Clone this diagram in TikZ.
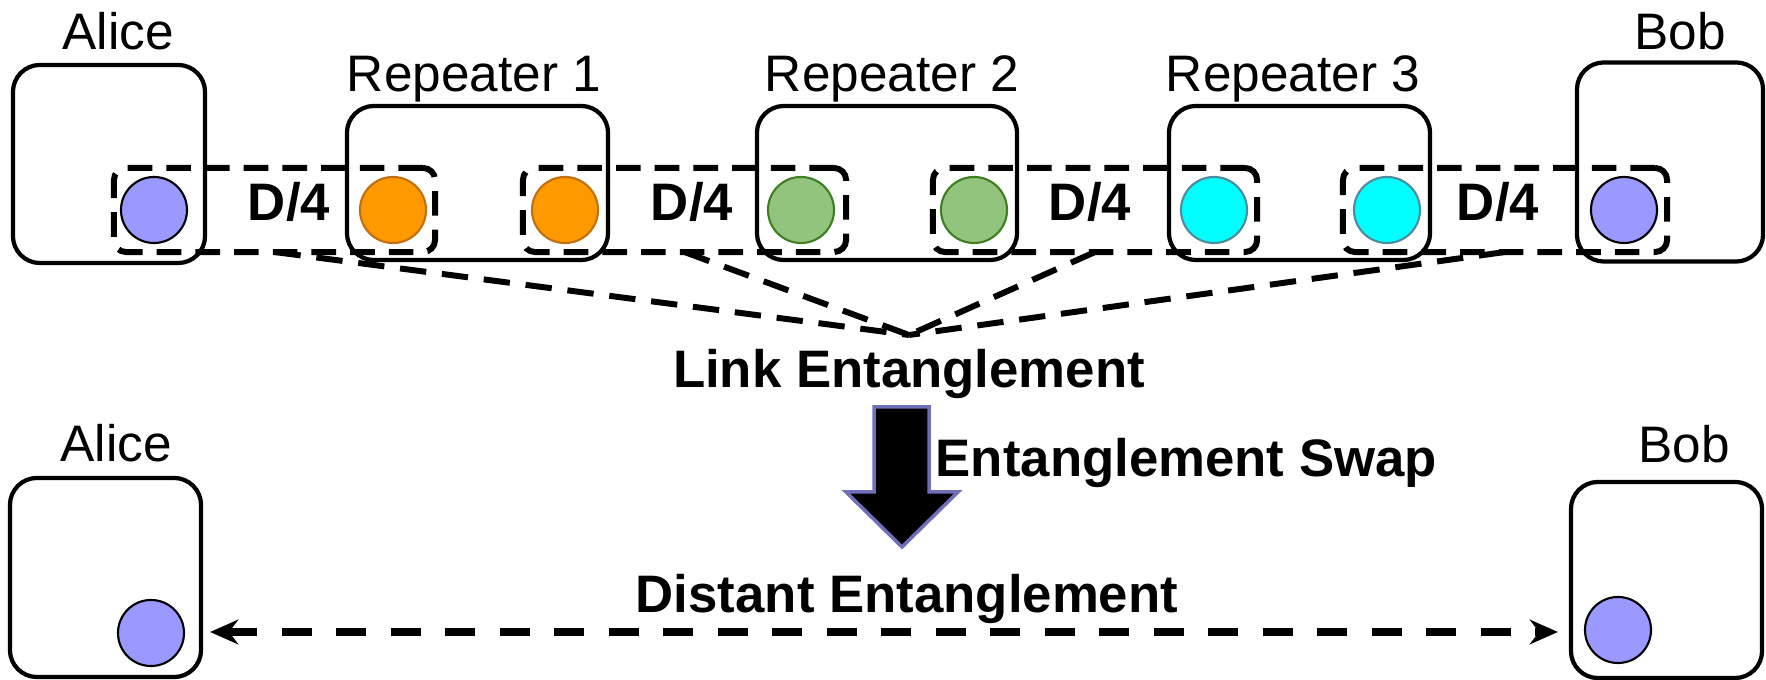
\documentclass[tikz,border=0pt]{standalone}
\usepackage{fontspec}
\setmainfont{Liberation Sans}
\usetikzlibrary{arrows.meta,calc}

\definecolor{qlav}{HTML}{9999FF}
\definecolor{qorange}{HTML}{FF9900}
\definecolor{qorangeedge}{HTML}{C07010}
\definecolor{qgreen}{HTML}{93C47D}
\definecolor{qgreenedge}{HTML}{3F7F24}
\definecolor{qcyan}{HTML}{00FFFF}
\definecolor{qcyanedge}{HTML}{4C8C9C}
\definecolor{swapedge}{HTML}{7070B8}

\tikzset{
  host/.style={draw, line width=1.2pt, rounded corners=0.27cm, inner sep=0pt, outer sep=0pt},
  qubit/.style={circle, minimum size=0.66cm, inner sep=0pt, line width=0.6pt},
  lav/.style={qubit, fill=qlav, draw=black},
  org/.style={qubit, fill=qorange, draw=qorangeedge},
  grn/.style={qubit, fill=qgreen, draw=qgreenedge},
  cyn/.style={qubit, fill=qcyan, draw=qcyanedge},
  linkbox/.style={draw, line width=1.7pt, dash pattern=on 7pt off 4pt,
    rounded corners=0.12cm, minimum height=0.84cm, inner sep=0pt, outer sep=0pt},
  linkline/.style={line width=1.7pt, dash pattern=on 7.5pt off 4.5pt},
  lab/.style={font=\fontsize{14.6}{17}\selectfont, anchor=base, inner sep=0pt},
  bold/.style={font=\fontsize{15}{18}\selectfont\bfseries, anchor=base, inner sep=0pt},
  dist/.style={line width=2pt, dash pattern=on 8.5pt off 7pt,
    {Stealth[length=8pt,width=7pt]}-{Stealth[length=8pt,width=7pt]}}
}

\begin{document}
\begin{tikzpicture}[x=0.01cm, y=-0.01cm]
\useasboundingbox (0,0) rectangle (1766,680);

% ---- upper row: end nodes and repeaters ----
\node[host, minimum width=1.92cm, minimum height=1.98cm] (aliceT) at (109,164) {};
\node[host, minimum width=2.61cm, minimum height=1.54cm] (rep1) at (477.5,183) {};
\node[host, minimum width=2.60cm, minimum height=1.54cm] (rep2) at (887,183) {};
\node[host, minimum width=2.61cm, minimum height=1.54cm] (rep3) at (1299.5,183) {};
\node[host, minimum width=1.86cm, minimum height=1.99cm] (bobT) at (1670,162) {};

\node[lab] (aliceTlab) at (118,50) {Alice};
\node[lab] (rep1lab) at (474,92) {Repeater 1};
\node[lab] (rep2lab) at (892,92) {Repeater 2};
\node[lab] (rep3lab) at (1293,92) {Repeater 3};
\node[lab] (bobTlab) at (1680,50) {Bob};

% ---- qubits ----
\node[lav] (qa)  at (154,210) {};
\node[org] (q1a) at (393,210) {};
\node[org] (q1b) at (565,210) {};
\node[grn] (q2a) at (801,210) {};
\node[grn] (q2b) at (974,210) {};
\node[cyn] (q3a) at (1214,210) {};
\node[cyn] (q3b) at (1387,210) {};
\node[lav] (qb)  at (1624,210) {};

% ---- elementary links ----
\node[linkbox, minimum width=3.21cm] (link1) at (274.5,210) {};
\node[linkbox, minimum width=3.23cm] (link2) at (684.5,210) {};
\node[linkbox, minimum width=3.24cm] (link3) at (1095,210) {};
\node[linkbox, minimum width=3.24cm] (link4) at (1505,210) {};

\node[bold] (d1) at (289,221) {D/4};
\node[bold] (d2) at (692,221) {D/4};
\node[bold] (d3) at (1090,221) {D/4};
\node[bold] (d4) at (1498,221) {D/4};

% ---- links merging into link entanglement ----
\coordinate (merge) at (909,335);
\foreach \l in {link1,link2,link3,link4}
  \draw[linkline] (\l.south) -- (merge);

\node[bold] (linkent) at (909,388) {Link Entanglement};

% ---- entanglement swap arrow ----
\draw[fill=black, draw=swapedge, line width=1pt, line join=miter]
  (874,407) -- (929,407) -- (929,492) -- (958,492) -- (902,547)
  -- (846,492) -- (874,492) -- cycle;
\node[bold, anchor=base west] (swap) at (935,477) {Entanglement Swap};

% ---- lower row: distant entanglement ----
\node[host, minimum width=1.91cm, minimum height=1.99cm] (aliceL) at (105.5,577.5) {};
\node[host, minimum width=1.91cm, minimum height=1.96cm] (bobL) at (1666.5,580) {};
\node[lab] (aliceLlab) at (116,462) {Alice};
\node[lab] (bobLlab) at (1684,463) {Bob};
\node[lav] (qaL) at (151,633) {};
\node[lav] (qbL) at (1618,630) {};

\node[bold] (distent) at (907,613) {Distant Entanglement};
\draw[dist, shorten <=0.09cm, shorten >=0.13cm]
  (aliceL.east |- 0,632) -- (bobL.west |- 0,632);

\end{tikzpicture}
\end{document}
